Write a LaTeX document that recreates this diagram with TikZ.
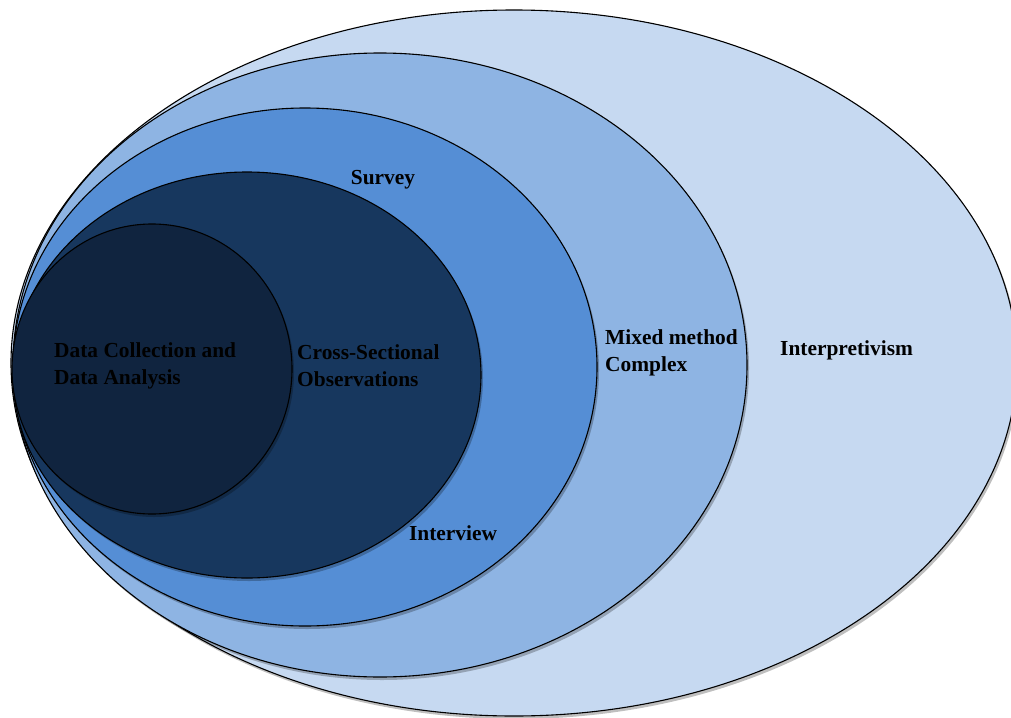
\documentclass[tikz,border=0pt]{standalone}
\usepackage{fontspec}
\setmainfont{Liberation Serif}
\definecolor{cA}{HTML}{C6D9F1}
\definecolor{cB}{HTML}{8EB4E3}
\definecolor{cC}{HTML}{558ED5}
\definecolor{cD}{HTML}{17375E}
\definecolor{cE}{HTML}{10243F}
\begin{document}
\begin{tikzpicture}[x=1pt,y=-1pt,
  ring/.style={draw=black,line width=1.1pt},
  shad/.style={fill=black,opacity=0.25},
  lbl/.style={font=\bfseries\fontsize{21.4}{27}\selectfont,text=black,align=left,inner sep=0pt}]
\useasboundingbox (0,0) rectangle (1011,717);
\fill[shad] (516,366) ellipse [x radius=503,y radius=353];
\fill[cA,ring] (514,363) ellipse [x radius=503,y radius=353];
\fill[shad] (382,368) ellipse [x radius=367,y radius=312];
\fill[cB,ring] (380,365) ellipse [x radius=367,y radius=312];
\fill[shad] (307,370) ellipse [x radius=292,y radius=259];
\fill[cC,ring] (305,367) ellipse [x radius=292,y radius=259];
\fill[shad] (249,378) ellipse [x radius=234,y radius=203];
\fill[cD,ring] (247,375) ellipse [x radius=234,y radius=203];
\fill[shad] (154,372) ellipse [x radius=140,y radius=145];
\fill[cE,ring] (152,369) ellipse [x radius=140,y radius=145];
\node[lbl,anchor=west] (dc) at (54,366) {Data Collection and\\Data Analysis};
\node[lbl,anchor=west] (cs) at (297,366) {Cross-Sectional\\Observations};
\node[lbl] (sv) at (383,180) {Survey};
\node[lbl] (iv) at (453,533) {Interview};
\node[lbl,anchor=west] (mm) at (605,353) {Mixed method\\Complex};
\node[lbl,anchor=west] (ip) at (780,350) {Interpretivism};
\end{tikzpicture}
\end{document}
